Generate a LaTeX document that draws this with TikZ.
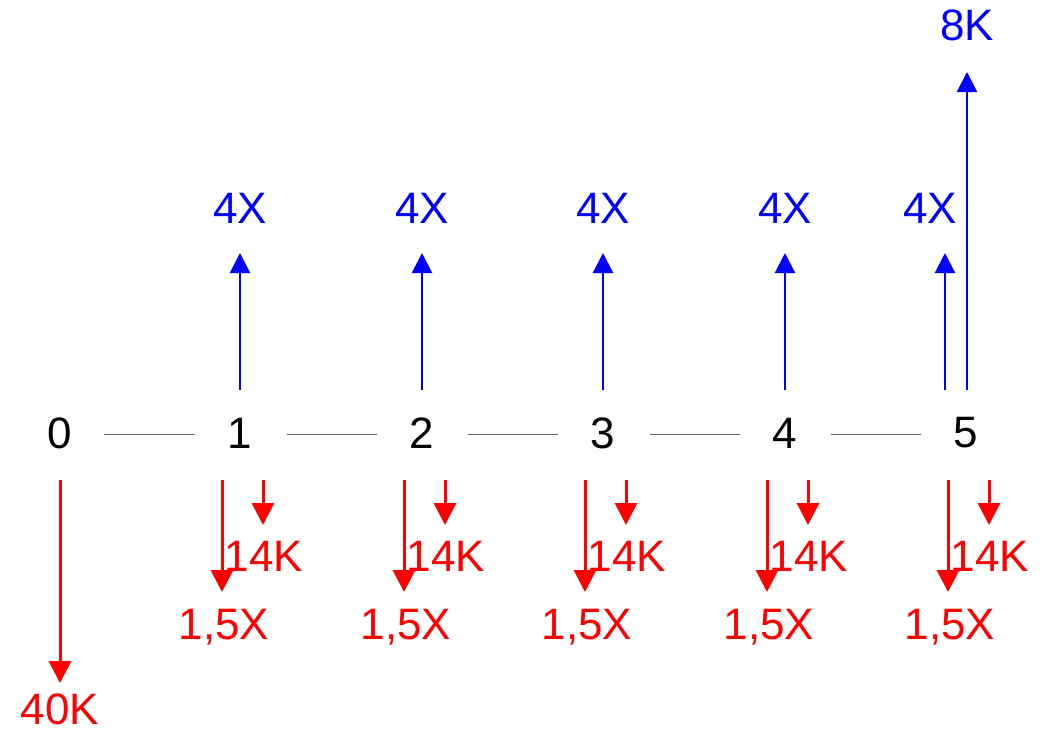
\documentclass[tikz,border=0pt]{standalone}
\usepackage{fontspec}
\setmainfont{Liberation Sans}
\usetikzlibrary{arrows.meta}
\definecolor{inflow}{RGB}{0,0,255}
\definecolor{outflow}{RGB}{255,0,0}
\begin{document}
\begin{tikzpicture}[x=1pt,y=-1pt,
  lbl/.style={inner sep=0pt,font=\fontsize{44}{50}\selectfont},
  period/.style={lbl,text=black},
  uplbl/.style={lbl,text=inflow},
  downlbl/.style={lbl,text=outflow},
  axis/.style={draw=black!60,line width=1pt},
  upflow/.style={draw=inflow,line width=2.2pt,-{Triangle[width=20pt,length=20pt]}},
  downflow/.style={draw=outflow,line width=3pt,-{Triangle[width=22pt,length=22pt]}}]
\useasboundingbox (0,0) rectangle (1053,734);

% time line
\foreach \i/\x in {0/60,1/240,2/422,3/603,4/785,5/966}
  \node[period] (t\i) at (\x,433) {\i};
\foreach \i/\a/\b in {0/104/195,1/287/377,2/468/558,3/650/740,4/831/921}{
  \coordinate (la\i) at (\a,434);
  \coordinate (lb\i) at (\b,434);
  \draw[axis] (la\i) -- (lb\i);
}

% yearly inflows
\foreach \i/\x/\lx in {1/240/240,2/422/422,3/603/603,4/785/785,5/945/930}{
  \coordinate (us\i) at (\x,390);
  \coordinate (ue\i) at (\x,253);
  \node[uplbl] (ux\i) at (\lx,208) {4X};
  \draw[upflow] (us\i) -- (ue\i);
}
% final inflow
\coordinate (fs) at (967,390);
\coordinate (fe) at (967,72);
\node[uplbl] (fk) at (967,25) {8K};
\draw[upflow] (fs) -- (fe);

% initial outflow
\coordinate (os) at (60,480);
\coordinate (oe) at (60,683);
\node[downlbl] (ok) at (60,709) {40K};
\draw[downflow] (os) -- (oe);

% yearly outflows
\foreach \i/\x in {1/222,2/404,3/585,4/767,5/948}{
  \coordinate (ls\i) at (\x,480);
  \coordinate (le\i) at (\x,592);
  \coordinate (ss\i) at (\x+41,480);
  \coordinate (se\i) at (\x+41,525);
  \node[downlbl] (k\i) at (\x+42,556) {14K};
  \node[downlbl] (p\i) at (\x+2,627) {1,5X};
  \draw[downflow] (ls\i) -- (le\i);
  \draw[downflow] (ss\i) -- (se\i);
}
\end{tikzpicture}
\end{document}
